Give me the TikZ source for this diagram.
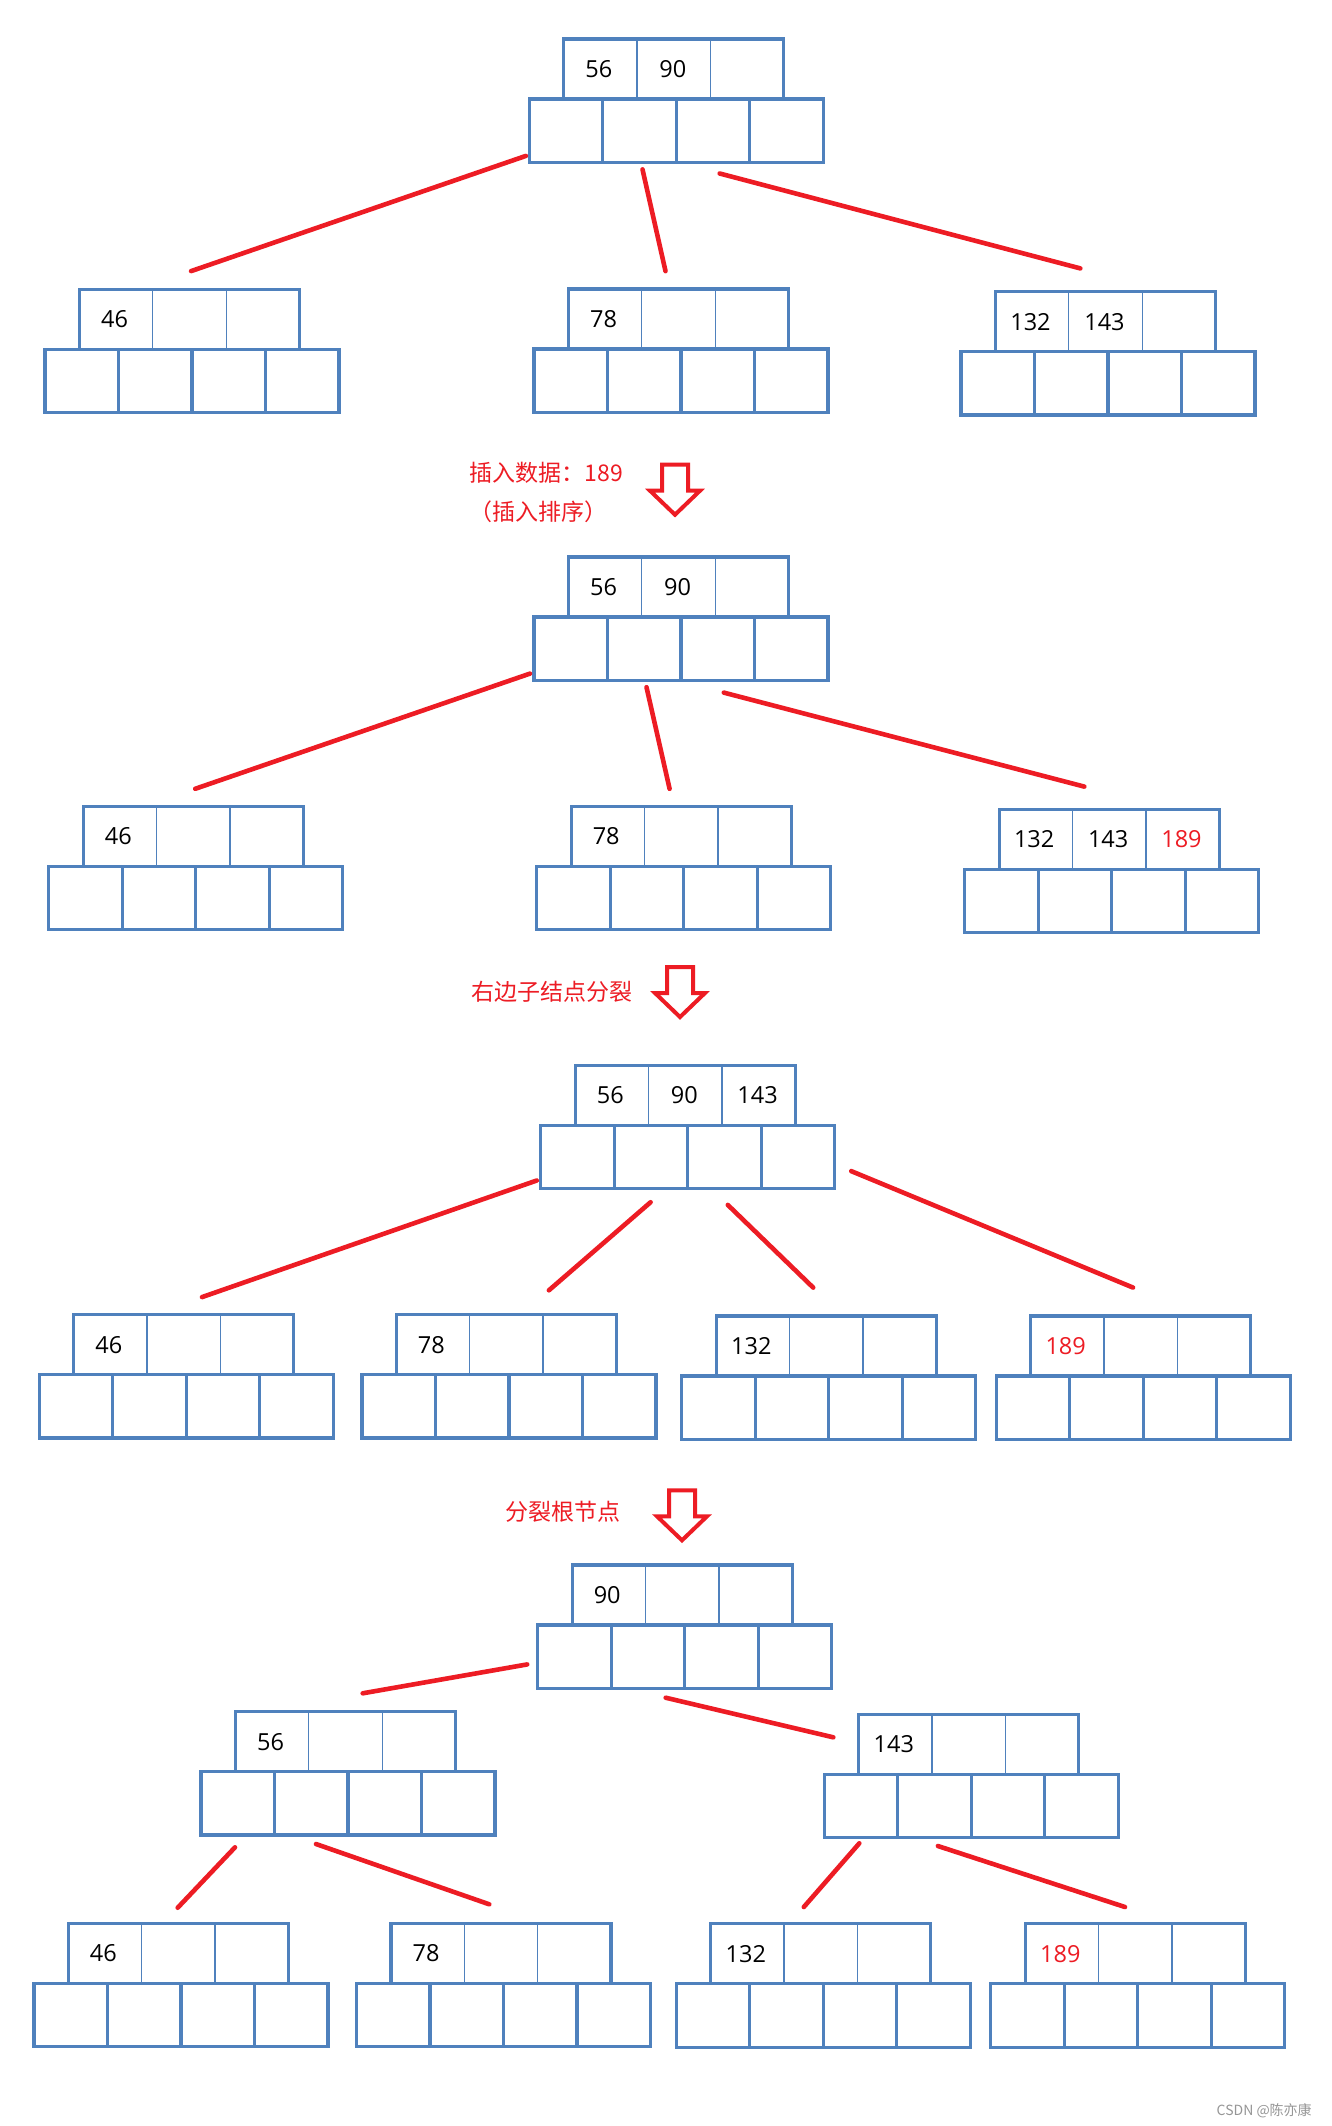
\documentclass[tikz,border=0pt]{standalone}
\usepackage{fontspec}
\newfontfamily\numfont{Open Sans}
\newfontfamily\cjk{Noto Sans CJK SC}
\definecolor{nodeblue}{RGB}{79,129,189}
\definecolor{lred}{RGB}{237,28,36}
\definecolor{wmgray}{RGB}{150,150,150}
\tikzset{
  bl/.style={draw=nodeblue, line width=3.2pt},
  thinl/.style={draw=nodeblue, line width=1.3pt},
  botrow/.style={bl, minimum width=294pt, minimum height=63.3pt, inner sep=0pt, outer sep=0pt, anchor=north west},
  toprow/.style={bl, minimum width=220pt, minimum height=60pt, inner sep=0pt, outer sep=0pt, anchor=north west},
  val/.style={inner sep=0pt, font=\numfont\fontsize{23.5}{23.5}\selectfont, text=black},
  conn/.style={draw=lred, line width=4.6pt, line cap=round},
  arr/.style={draw=lred, line width=4pt, line join=miter},
  lab/.style={inner sep=0pt, anchor=west, text=lred, font=\cjk\fontsize{23}{26}\selectfont}
}
\newcommand{\btnode}[6]{%
  \node[toprow] (#1t) at (#2+34.5,#3) {};
  \node[botrow] (#1) at (#2,#3+60) {};
  \foreach \k in {1,2,3} \draw[bl] (#2+73.5*\k,#3+60) -- ++(0,63.3);
  \foreach \k in {1,2} \draw[thinl] (#2+34.5+73.33*\k,#3) -- ++(0,60);
  \node[val] (#1a) at (#2+34.5+35,#3+30) {#4};
  \node[val] (#1b) at (#2+34.5+109,#3+30) {#5};
  \node[val] (#1c) at (#2+34.5+182.3,#3+30) {#6};
}
\newcommand{\downarr}[2]{%
  \draw[arr] (#1+15,#2+2) -- (#1+41,#2+2) -- (#1+41,#2+28) -- (#1+53,#2+28)
    -- (#1+28,#2+52) -- (#1+3,#2+28) -- (#1+15,#2+28) -- cycle;
}
\begin{document}
\begin{tikzpicture}[x=1pt,y=-1pt]
\fill[white] (0,0) rectangle (1331,2126);
\useasboundingbox (0,0) rectangle (1331,2126);

% ---------- stage 1 ----------
\btnode{ra}{529.3}{39}{56}{90}{}
\btnode{aa}{45}{289.3}{46}{}{}
\btnode{ab}{534}{289}{78}{}{}
\btnode{ac}{961}{291.7}{132}{143}{}
\coordinate (a1s) at (525.9,155.9); \coordinate (a1e) at (191.1,271.1);
\coordinate (a2s) at (642.5,169.4); \coordinate (a2e) at (665.5,271.1);
\coordinate (a3s) at (719.7,173.5); \coordinate (a3e) at (1080.3,268.4);
\draw[conn] (a1s) -- (a1e);
\draw[conn] (a2s) -- (a2e);
\draw[conn] (a3s) -- (a3e);

\node[lab] (t1) at (469.5,473) {插入数据：189};
\node[lab] (t2) at (469.5,511.7) {（插入排序）};
\downarr{647}{462.7}

% ---------- stage 2 ----------
\btnode{rb}{534}{557}{56}{90}{}
\btnode{ba}{48.8}{806.5}{46}{}{}
\btnode{bb}{536.7}{806.5}{78}{}{}
\btnode{bc}{964.7}{809.3}{132}{143}{\textcolor{lred}{189}}
\coordinate (b1s) at (530,673.6); \coordinate (b1e) at (195.2,788.8);
\coordinate (b2s) at (646.5,687.2); \coordinate (b2e) at (669.6,788.8);
\coordinate (b3s) at (723.8,692.6); \coordinate (b3e) at (1084.3,786.6);
\draw[conn] (b1s) -- (b1e);
\draw[conn] (b2s) -- (b2e);
\draw[conn] (b3s) -- (b3e);

\node[lab] (t3) at (471,991.7) {右边子结点分裂};
\downarr{652}{965}

% ---------- stage 3 ----------
\btnode{rc}{540.8}{1065.3}{56}{90}{143}
\btnode{ca}{39.3}{1314.7}{46}{}{}
\btnode{cb}{361.9}{1314.7}{78}{}{}
\btnode{cc}{681.8}{1316}{132}{}{}
\btnode{cd}{996.2}{1316}{\textcolor{lred}{189}}{}{}
\coordinate (c1s) at (536.7,1180.5); \coordinate (c1e) at (202,1297.1);
\coordinate (c2s) at (650.6,1202.2); \coordinate (c2e) at (548.9,1290.3);
\coordinate (c3s) at (727.8,1204.9); \coordinate (c3e) at (813.2,1287.6);
\coordinate (c4s) at (851.2,1171.1); \coordinate (c4e) at (1133.1,1287.6);
\draw[conn] (c1s) -- (c1e);
\draw[conn] (c2s) -- (c2e);
\draw[conn] (c3s) -- (c3e);
\draw[conn] (c4s) -- (c4e);

\node[lab] (t4) at (505.5,1511.7) {分裂根节点};
\downarr{654}{1488.3}

% ---------- stage 4 ----------
\btnode{rd}{537.7}{1565}{90}{}{}
\btnode{da}{201}{1711.7}{56}{}{}
\btnode{db}{824.3}{1714.3}{143}{}{}
\btnode{dc}{33.9}{1923.5}{46}{}{}
\btnode{dd}{356.5}{1923.5}{78}{}{}
\btnode{de}{676.3}{1923.8}{132}{}{}
\btnode{df}{990.8}{1923.8}{\textcolor{lred}{189}}{}{}
\coordinate (d1s) at (527.2,1664.4); \coordinate (d1e) at (362.7,1693.3);
\coordinate (d2s) at (665.7,1697.7); \coordinate (d2e) at (833.3,1737.3);
\coordinate (d3s) at (235,1847.3); \coordinate (d3e) at (177.7,1907.7);
\coordinate (d4s) at (316,1844); \coordinate (d4e) at (489.3,1904.3);
\coordinate (d5s) at (859.3,1843.3); \coordinate (d5e) at (803.8,1907);
\coordinate (d6s) at (937.9,1846); \coordinate (d6e) at (1125,1907);
\draw[conn] (d1s) -- (d1e);
\draw[conn] (d2s) -- (d2e);
\draw[conn] (d3s) -- (d3e);
\draw[conn] (d4s) -- (d4e);
\draw[conn] (d5s) -- (d5e);
\draw[conn] (d6s) -- (d6e);

\node[inner sep=0pt, anchor=west, text=wmgray, font=\cjk\fontsize{14}{16}\selectfont] (wm) at (1216.5,2111) {CSDN @陈亦康};
\end{tikzpicture}
\end{document}
